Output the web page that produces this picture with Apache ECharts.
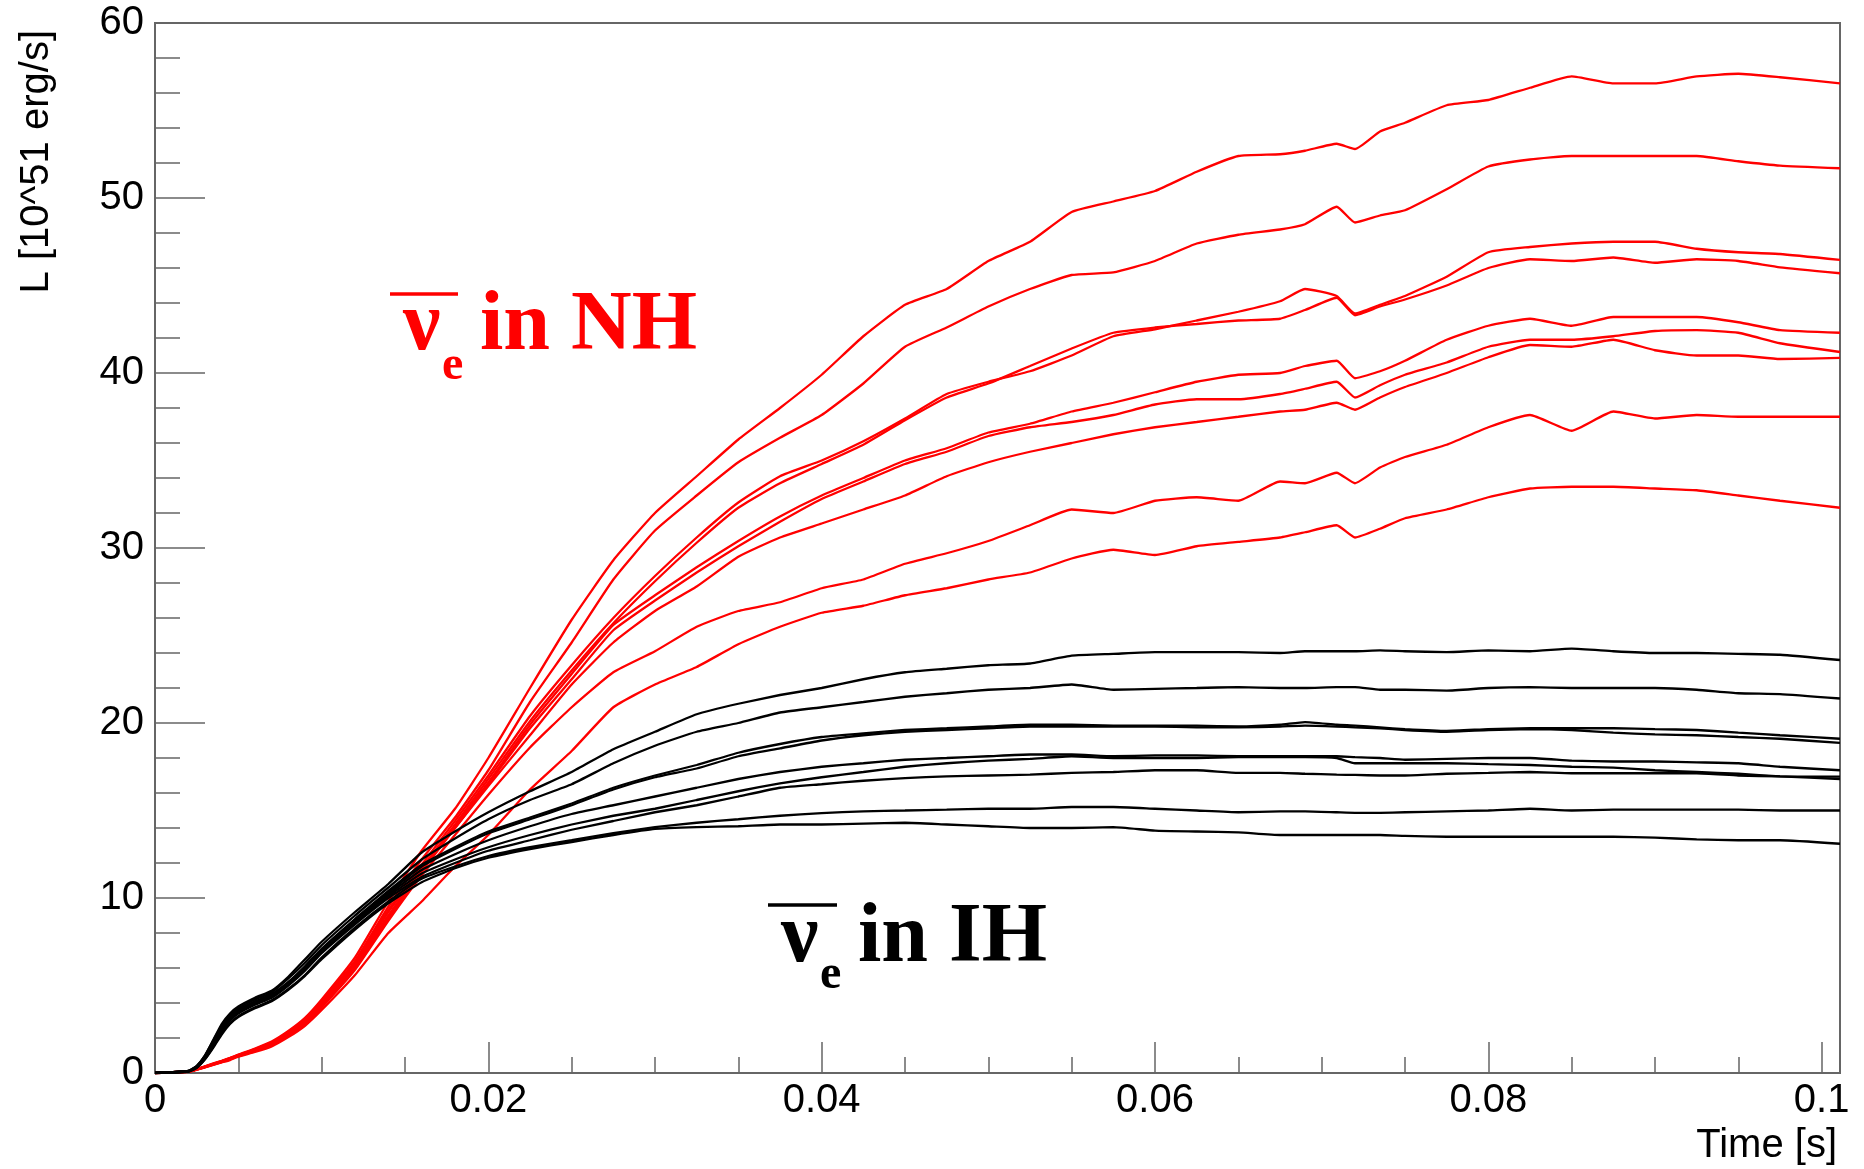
<!DOCTYPE html>
<html>
<head>
<meta charset="utf-8">
<script src="https://cdn.jsdelivr.net/npm/echarts@6/dist/echarts.min.js"></script>
<style>
html,body{margin:0;padding:0;background:#fff;}
#chart{width:1864px;height:1169px;}
</style>
</head>
<body>
<div id="chart"></div>
<script>
// ---- time grid [s] ----
const T = [0, 0.002, 0.0025, 0.003, 0.0035, 0.004, 0.0045, 0.005, 0.006, 0.007, 0.008, 0.009, 0.010, 0.012, 0.014,
  0.016, 0.018, 0.020,
  0.0225, 0.025, 0.0275, 0.030, 0.0325, 0.035, 0.0375, 0.040, 0.0425, 0.045, 0.0475, 0.050, 0.0525, 0.055, 0.0575, 0.060, 0.0625, 0.065, 0.0675,
  0.069, 0.0709, 0.072, 0.0735,
  0.075, 0.0775, 0.080, 0.0825, 0.085, 0.0875, 0.090, 0.0925, 0.095, 0.0975, 0.1011];

// ---- anti-nu_e luminosity, normal hierarchy (red) [10^51 erg/s] ----
const NH1 = [0,0.1,0.22,0.38,0.55,0.7,0.87,1.05,1.4,1.8,2.4,3.15,4.2,6.6,9.8, 12.7,15.1,18.0,
  22.0,25.9,29.3,32.0,34.1,36.2,38.0,39.9,42.1,43.9,44.8,46.4,47.5,49.2,49.8,50.4,51.5,52.4,52.5,
  52.7,53.1,52.8,53.8, 54.3,55.3,55.6,56.3,56.95,56.55,56.55,56.95,57.1,56.9,56.55];
const NH2 = [0,0.1,0.22,0.37,0.53,0.68,0.85,1.03,1.37,1.75,2.35,3.1,4.1,6.4,9.5, 12.2,14.6,17.3,
  21.2,24.6,28.2,31.0,33.0,34.9,36.3,37.6,39.4,41.5,42.6,43.8,44.8,45.6,45.75,46.4,47.4,47.9,48.2,
  48.5,49.5,48.6,49.0, 49.3,50.5,51.8,52.2,52.4,52.4,52.4,52.4,52.1,51.85,51.7];
const NH3 = [0,0.09,0.21,0.36,0.52,0.67,0.83,1.02,1.34,1.7,2.3,3.0,4.0,6.3,9.3, 11.9,14.4,17.0,
  20.4,23.3,26.0,28.4,30.6,32.6,34.1,35.0,36.1,37.4,38.8,39.5,40.1,41.0,42.1,42.5,43.0,43.5,44.1,
  44.8,44.4,43.4,43.9, 44.4,45.5,46.9,47.2,47.4,47.5,47.5,47.1,46.9,46.8,46.46];
const NH4 = [0,0.09,0.21,0.36,0.51,0.66,0.82,1.01,1.33,1.68,2.27,2.98,3.97,6.25,9.2, 11.7,14.2,16.8,
  20.1,23.0,25.7,28.1,30.3,32.3,33.7,34.8,35.9,37.3,38.6,39.4,40.4,41.4,42.3,42.6,42.8,43.0,43.1,
  43.6,44.3,43.3,43.8, 44.2,45.0,46.0,46.5,46.4,46.6,46.3,46.5,46.4,46.04,45.7];
const NH5 = [0,0.08,0.2,0.35,0.5,0.65,0.8,1.0,1.3,1.65,2.22,2.93,3.92,6.15,9.0, 11.6,14.1,16.6,
  19.9,22.8,25.6,27.3,28.9,30.4,31.8,33.0,34.0,35.0,35.7,36.6,37.1,37.8,38.3,38.9,39.5,39.9,40.0,
  40.4,40.7,39.7,40.1, 40.7,41.9,42.7,43.1,42.7,43.2,43.2,43.2,42.9,42.45,42.3];
const NH6 = [0,0.08,0.2,0.35,0.5,0.65,0.8,1.0,1.3,1.64,2.2,2.9,3.9,6.1,8.9, 11.5,14.0,16.5,
  19.7,22.5,25.3,27.0,28.6,30.1,31.5,32.8,33.8,34.8,35.5,36.4,36.9,37.2,37.6,38.2,38.5,38.5,38.8,
  39.1,39.5,38.6,39.3, 39.9,40.6,41.5,41.9,41.9,42.1,42.4,42.45,42.3,41.7,41.2];
const NH7 = [0,0.08,0.2,0.34,0.49,0.64,0.79,0.98,1.28,1.62,2.17,2.86,3.85,6.05,8.8, 11.6,14.0,16.4,
  19.3,22.2,24.6,26.4,27.8,29.5,30.6,31.4,32.2,33.0,34.1,34.9,35.5,36.0,36.5,36.9,37.2,37.5,37.8,
  37.9,38.3,37.9,38.6, 39.2,40.0,40.9,41.6,41.5,41.9,41.3,41.0,41.0,40.8,40.86];
const NH8 = [0,0.07,0.19,0.33,0.48,0.62,0.77,0.96,1.25,1.58,2.12,2.8,3.75,5.9,8.7, 11.3,13.6,15.9,
  18.6,20.9,22.9,24.1,25.5,26.4,26.9,27.7,28.2,29.1,29.7,30.4,31.3,32.2,32.0,32.7,32.9,32.7,33.8,
  33.7,34.3,33.7,34.6, 35.2,35.9,36.9,37.6,36.7,37.8,37.4,37.6,37.5,37.5,37.5];
const NH9 = [0,0.07,0.18,0.32,0.46,0.6,0.74,0.93,1.2,1.52,2.05,2.7,3.6,5.6,8.0, 9.8,11.8,13.6,
  16.2,18.4,20.9,22.2,23.2,24.5,25.5,26.3,26.7,27.3,27.7,28.2,28.6,29.4,29.9,29.6,30.1,30.35,30.6,
  30.9,31.3,30.6,31.1, 31.7,32.2,32.9,33.4,33.5,33.5,33.4,33.3,33.0,32.7,32.3];

// ---- anti-nu_e luminosity, inverted hierarchy (black) [10^51 erg/s] ----
const IH1 = [0,0.12,0.4,1.0,1.9,2.8,3.4,3.8,4.3,4.7,5.5,6.5,7.5,9.2,10.8, 12.6,13.8,14.9,
  16.1,17.2,18.5,19.5,20.5,21.1,21.6,22.0,22.5,22.9,23.1,23.3,23.4,23.85,23.95,24.05,24.05,24.05,24.0,
  24.1,24.1,24.1,24.15, 24.1,24.05,24.15,24.1,24.25,24.1,24.0,24.0,23.95,23.9,23.6];
const IH2 = [0,0.12,0.4,1.0,1.85,2.7,3.3,3.7,4.2,4.6,5.4,6.3,7.3,9.0,10.6, 12.2,13.4,14.5,
  15.6,16.5,17.7,18.7,19.5,20.0,20.6,20.9,21.2,21.5,21.7,21.9,22.0,22.2,21.9,21.95,22.0,22.05,22.0,
  22.0,22.05,22.05,21.9, 21.9,21.85,22.0,22.05,22.0,22.0,22.0,21.9,21.7,21.65,21.4];
const IH3 = [0,0.1,0.37,0.95,1.8,2.6,3.2,3.6,4.1,4.5,5.2,6.1,7.1,8.8,10.4, 11.9,12.9,13.8,
  14.6,15.4,16.3,17.0,17.6,18.3,18.8,19.2,19.4,19.6,19.7,19.8,19.9,19.9,19.85,19.85,19.85,19.8,19.9,
  20.05,19.9,19.85,19.75, 19.65,19.55,19.65,19.7,19.7,19.7,19.65,19.6,19.45,19.3,19.1];
const IH4 = [0,0.1,0.36,0.92,1.75,2.55,3.15,3.55,4.05,4.45,5.15,6.05,7.05,8.75,10.3, 11.8,12.8,13.7,
  14.5,15.3,16.2,16.9,17.4,18.1,18.55,19.0,19.3,19.5,19.6,19.7,19.8,19.8,19.8,19.8,19.75,19.75,19.8,
  19.85,19.8,19.75,19.7, 19.6,19.5,19.6,19.65,19.6,19.45,19.35,19.3,19.2,19.1,18.86];
const IH5 = [0,0.1,0.35,0.9,1.7,2.5,3.1,3.5,4.0,4.4,5.1,6.0,7.0,8.7,10.2, 11.6,12.5,13.3,
  14.1,14.8,15.3,15.8,16.3,16.8,17.2,17.5,17.7,17.9,18.0,18.1,18.2,18.2,18.1,18.15,18.15,18.1,18.1,
  18.1,18.1,18.05,18.0, 17.9,17.95,18.0,18.0,17.85,17.8,17.8,17.75,17.7,17.5,17.3];
const IH6 = [0,0.1,0.34,0.88,1.65,2.45,3.05,3.45,3.95,4.35,5.05,5.9,6.9,8.6,10.1, 11.4,12.2,12.9,
  13.6,14.2,14.7,15.1,15.6,16.1,16.55,16.9,17.2,17.5,17.7,17.85,17.95,18.1,18.0,18.0,18.0,18.05,18.05,
  18.05,18.0,17.7,17.7, 17.7,17.7,17.65,17.6,17.5,17.45,17.3,17.2,17.1,16.95,16.8];
const IH7 = [0,0.1,0.33,0.85,1.6,2.4,3.0,3.4,3.9,4.3,5.0,5.85,6.85,8.5,10.0, 11.2,12.0,12.7,
  13.3,13.9,14.4,14.9,15.3,15.8,16.3,16.5,16.7,16.85,16.95,17.0,17.05,17.15,17.2,17.3,17.3,17.15,17.15,
  17.1,17.05,17.03,17.0, 17.0,17.1,17.15,17.2,17.13,17.13,17.13,17.13,17.0,16.95,16.93];
const IH8 = [0,0.08,0.3,0.8,1.5,2.3,2.85,3.25,3.75,4.15,4.8,5.6,6.6,8.3,9.8, 11.1,11.8,12.4,
  12.9,13.3,13.7,14.05,14.3,14.5,14.7,14.85,14.95,15.0,15.05,15.1,15.1,15.2,15.2,15.1,15.0,14.9,14.95,
  14.95,14.9,14.87,14.87, 14.9,14.95,15.0,15.1,15.0,15.05,15.05,15.05,15.05,15.0,15.0];
const IH9 = [0,0.08,0.3,0.78,1.45,2.2,2.8,3.2,3.7,4.1,4.75,5.55,6.5,8.2,9.7, 10.9,11.7,12.3,
  12.8,13.2,13.6,13.95,14.05,14.1,14.2,14.2,14.25,14.3,14.2,14.1,14.0,14.0,14.05,13.85,13.8,13.75,13.6,
  13.6,13.6,13.6,13.6, 13.55,13.5,13.5,13.5,13.5,13.5,13.45,13.35,13.3,13.3,13.1];

// ---- tick labels ----
const X_TICK_VALUES = [0, 0.02, 0.04, 0.06, 0.08, 0.1];
const X_TICK_LABELS = ['0', '0.02', '0.04', '0.06', '0.08', '0.1'];
const Y_TICK_VALUES = [0, 10, 20, 30, 40, 50, 60];
const Y_TICK_LABELS = ['0', '10', '20', '30', '40', '50', '60'];

// ---- texts ----
const X_TITLE = 'Time [s]';
const Y_TITLE = 'L [10^51 erg/s]';
const NU = '\u03BD';
const SUB = 'e';
const NH_TEXT = 'in NH';
const IH_TEXT = 'in IH';

const NH_SERIES = [NH1, NH2, NH3, NH4, NH5, NH6, NH7, NH8, NH9];
const IH_SERIES = [IH1, IH2, IH3, IH4, IH5, IH6, IH7, IH8, IH9];

function lookup(values, labels) {
  return function (v) {
    for (let i = 0; i < values.length; i++) {
      if (Math.abs(values[i] - v) < 1e-9) return labels[i];
    }
    return '';
  };
}

const SANS = '"Liberation Sans", Arial, Helvetica, sans-serif';
const SERIF = '"Liberation Serif", "Times New Roman", serif';
const AXIS_GRAY = '#666666';

function mkSeries(arr, color, name) {
  return {
    name: name,
    type: 'line',
    data: T.map((t, i) => [t, arr[i]]),
    showSymbol: false,
    symbol: 'none',
    smooth: 0.15,
    lineStyle: { color: color, width: 2.3 },
    emphasis: { disabled: true },
    silent: true
  };
}

const series = [];
NH_SERIES.forEach((a, i) => series.push(mkSeries(a, '#ff0000', 'NH' + (i + 1))));
IH_SERIES.forEach((a, i) => series.push(mkSeries(a, '#000000', 'IH' + (i + 1))));

const chart = echarts.init(document.getElementById('chart'), null, { renderer: 'canvas' });

const option = {
  animation: false,
  backgroundColor: '#ffffff',
  grid: {
    left: 155, right: 24, top: 23, bottom: 96,
    show: true, borderColor: AXIS_GRAY, borderWidth: 2,
    containLabel: false,
    outerBoundsMode: 'none'
  },
  xAxis: {
    type: 'value', min: 0, max: 0.1011, interval: 0.02,
    splitLine: { show: false },
    axisLine: { show: true, onZero: false, lineStyle: { color: AXIS_GRAY, width: 2 } },
    axisTick: { show: true, inside: true, length: 31, lineStyle: { color: AXIS_GRAY, width: 1.5 } },
    minorTick: { show: true, splitNumber: 4, length: 16, lineStyle: { color: AXIS_GRAY, width: 1.5 } },
    minorSplitLine: { show: false },
    axisLabel: {
      show: true, margin: 8, fontSize: 40, fontFamily: SANS, color: '#000',
      showMaxLabel: false, showMinLabel: true,
      formatter: lookup(X_TICK_VALUES, X_TICK_LABELS)
    }
  },
  yAxis: {
    type: 'value', min: 0, max: 60, interval: 10,
    splitLine: { show: false },
    axisLine: { show: true, onZero: false, lineStyle: { color: AXIS_GRAY, width: 2 } },
    axisTick: { show: true, inside: true, length: 50, lineStyle: { color: AXIS_GRAY, width: 1.5 } },
    minorTick: { show: true, splitNumber: 5, length: 25, lineStyle: { color: AXIS_GRAY, width: 1.5 } },
    minorSplitLine: { show: false },
    axisLabel: {
      show: true, margin: 11, fontSize: 40, fontFamily: SANS, color: '#000',
      formatter: lookup(Y_TICK_VALUES, Y_TICK_LABELS)
    }
  },
  series: series,
  graphic: [
    { type: 'text', x: 37, y: 30, rotation: Math.PI / 2,
      style: { text: Y_TITLE, fontSize: 40, fontFamily: SANS, fill: '#000', align: 'right', verticalAlign: 'middle' } },
    { type: 'text', x: 1837, y: 1146,
      style: { text: X_TITLE, fontSize: 40, fontFamily: SANS, fill: '#000', align: 'right', verticalAlign: 'middle' } },
    // NH label (red)
    { type: 'line', shape: { x1: 390, y1: 294, x2: 458, y2: 294 }, style: { stroke: '#ff0000', lineWidth: 3.5 } },
    { type: 'text', x: 403, y: 327,
      style: { text: NU, fontSize: 84, fontWeight: 'bold', fontFamily: SERIF, fill: '#ff0000', align: 'left', verticalAlign: 'middle' } },
    { type: 'text', x: 442, y: 367,
      style: { text: SUB, fontSize: 48, fontWeight: 'bold', fontFamily: SERIF, fill: '#ff0000', align: 'left', verticalAlign: 'middle' } },
    { type: 'text', x: 480, y: 327,
      style: { text: NH_TEXT, fontSize: 84, fontWeight: 'bold', fontFamily: SERIF, fill: '#ff0000', align: 'left', verticalAlign: 'middle' } },
    // IH label (black)
    { type: 'line', shape: { x1: 768, y1: 905, x2: 837, y2: 905 }, style: { stroke: '#000000', lineWidth: 3.5 } },
    { type: 'text', x: 781, y: 939,
      style: { text: NU, fontSize: 84, fontWeight: 'bold', fontFamily: SERIF, fill: '#000', align: 'left', verticalAlign: 'middle' } },
    { type: 'text', x: 820, y: 976,
      style: { text: SUB, fontSize: 48, fontWeight: 'bold', fontFamily: SERIF, fill: '#000', align: 'left', verticalAlign: 'middle' } },
    { type: 'text', x: 858, y: 939,
      style: { text: IH_TEXT, fontSize: 84, fontWeight: 'bold', fontFamily: SERIF, fill: '#000', align: 'left', verticalAlign: 'middle' } }
  ]
};

chart.setOption(option);
</script>
</body>
</html>
